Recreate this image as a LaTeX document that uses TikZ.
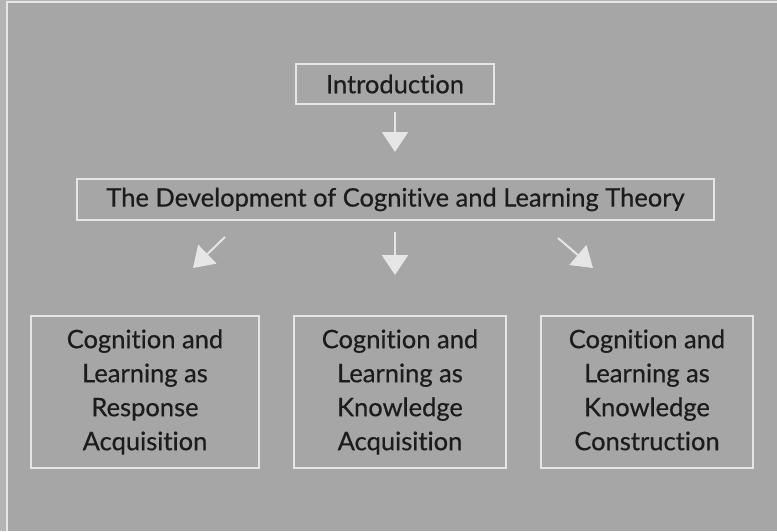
\documentclass[tikz,border=0pt]{standalone}
\usepackage{fontspec}
\setmainfont{Lato}[Ligatures={NoCommon,NoRare,NoContextual}]
\newfontfamily\labelfont{Lato}[Ligatures={NoCommon,NoRare,NoContextual},FakeBold=0.5]
\usetikzlibrary{arrows.meta}
\definecolor{bg}{HTML}{A6A6A6}
\definecolor{bgedge}{HTML}{B4B4B4}
\definecolor{ln}{HTML}{E6E6E6}
\definecolor{txt}{HTML}{1C1C1C}
\tikzset{
  box/.style={draw=ln, line width=2pt, text=txt, inner sep=0pt, anchor=north west},
  big/.style={font=\labelfont\fontsize{25.5}{34}\selectfont},
  arr/.style={draw=ln, line width=2pt, -{Triangle[width=26pt,length=20pt]}, ln},
}
\begin{document}
\begin{tikzpicture}[x=1pt,y=-1pt]
\useasboundingbox (0,0) rectangle (777,531);
\fill[bgedge] (0,0) rectangle (777,531);
\fill[bg] (7,2) rectangle (777,531);
\draw[ln, line width=1.5pt] (7,531) -- (7,2) -- (777,2);
% boxes
\node[box, big, minimum width=198pt, minimum height=40pt] (intro) at (295,63) {Introduction};
\node[box, big, minimum width=637pt, minimum height=41pt] (dev) at (76,178) {The Development of Cognitive and Learning Theory};
\node[box, big, minimum width=228pt, minimum height=152pt, align=center] (resp) at (30,315) {Cognition and\\Learning as\\Response\\Acquisition\vphantom{p}};
\node[box, big, minimum width=212pt, minimum height=152pt, align=center] (know) at (293,315) {Cognition and\\Learning as\\Knowledge\\Acquisition\vphantom{p}};
\node[box, big, minimum width=212pt, minimum height=152pt, align=center] (cons) at (540,315) {Cognition and\\Learning as\\Knowledge\\Construction\vphantom{p}};
% arrow ends
\coordinate (a1s) at (395,112); \coordinate (a1e) at (395,152);
\coordinate (a2s) at (395,232); \coordinate (a2e) at (395,275);
\coordinate (a3s) at (225,237); \coordinate (a3e) at (193,268);
\coordinate (a4s) at (558,238); \coordinate (a4e) at (593,268);
\draw[arr] (a1s) -- (a1e);
\draw[arr] (a2s) -- (a2e);
\draw[arr] (a3s) -- (a3e);
\draw[arr] (a4s) -- (a4e);
\end{tikzpicture}
\end{document}
